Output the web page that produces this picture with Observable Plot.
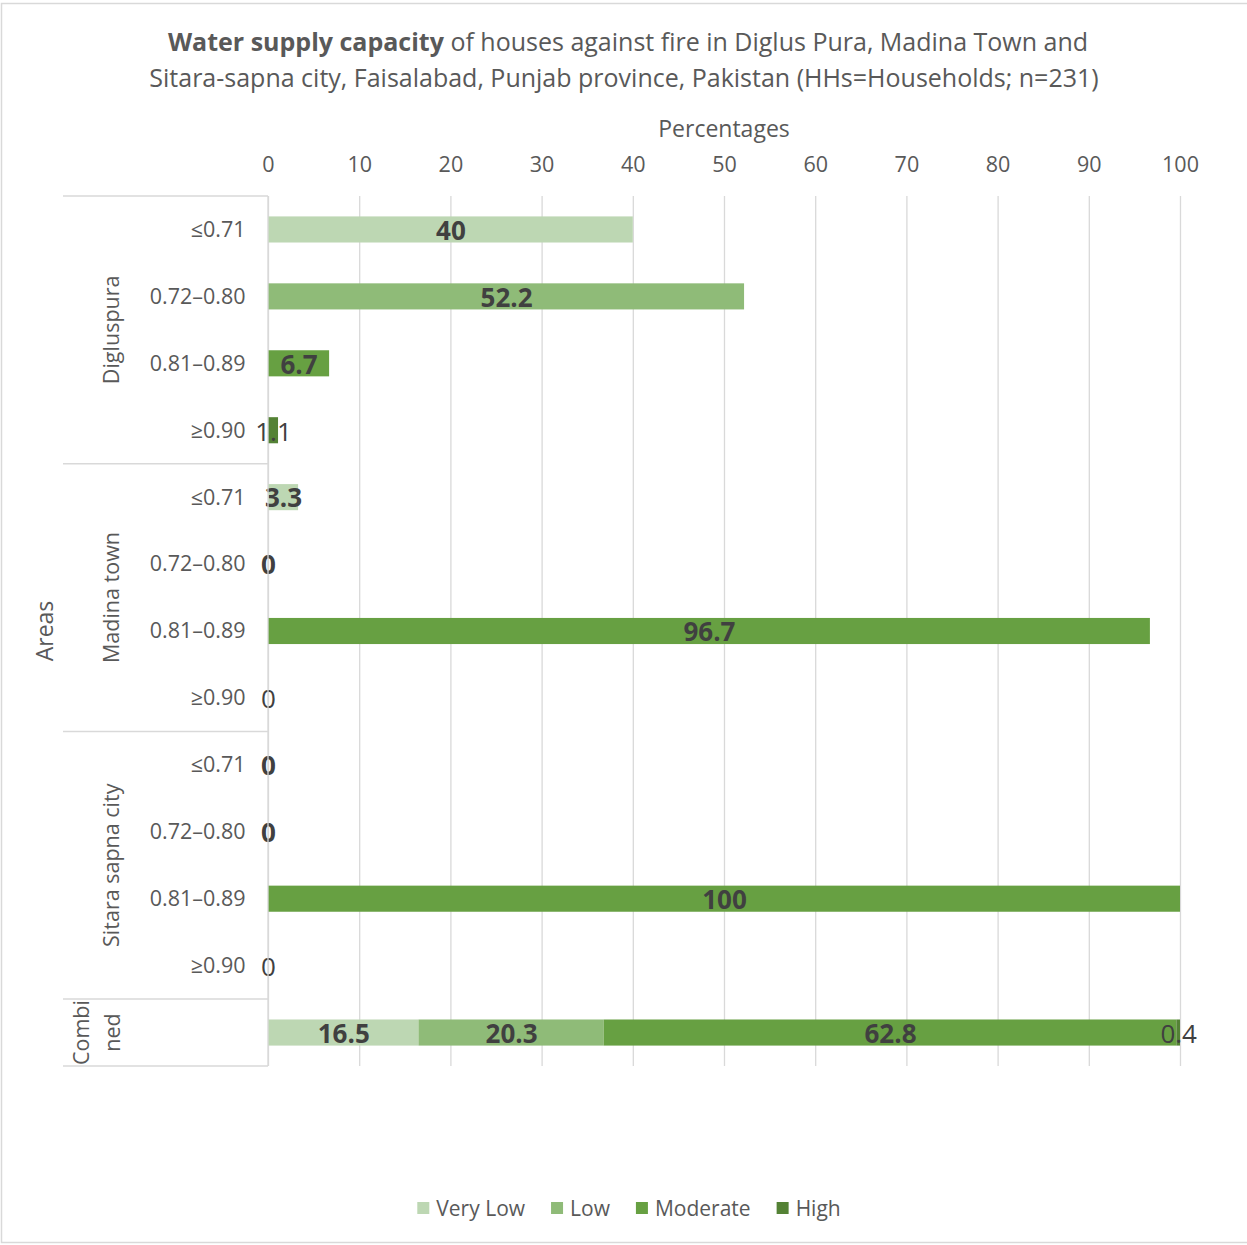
<!DOCTYPE html>
<html>
<head>
<meta charset="utf-8">
<script src="https://cdn.jsdelivr.net/npm/d3@7"></script>
<script src="https://cdn.jsdelivr.net/npm/@observablehq/plot@0.6"></script>
<style>
  body { margin: 0; background: #fff; }
  #chart { width: 1247px; height: 1245px; overflow: hidden; }
  #chart svg { display: block; }
</style>
</head>
<body>
<div id="chart"></div>
<script>
// Areas and capacity classes (category axis)
const areas = ["Digluspura", "Madina town", "Sitara sapna city", "Combined"];
const classes = ["≤0.71", "0.72–0.80", "0.81–0.89", "≥0.90"];
// Capacity levels (series)
const seriesNames = ["Very Low", "Low", "Moderate", "High"];
const seriesColors = ["#bdd7b3", "#8fbb78", "#67a042", "#548235"];
// Percentages of households, one value per class/level
const digluspura = [40, 52.2, 6.7, 1.1];
const madinaTown = [3.3, 0, 96.7, 0];
const sitaraSapna = [0, 0, 100, 0];
const combined = [16.5, 20.3, 62.8, 0.4];
const xTicks = [0, 10, 20, 30, 40, 50, 60, 70, 80, 90, 100];

// Build the long table: each area row carries one level; the combined row stacks all four
const rows = [];
const rowKeys = [];
[[areas[0], digluspura], [areas[1], madinaTown], [areas[2], sitaraSapna]].forEach(([area, vals]) => {
  vals.forEach((v, i) => {
    const key = area + "|" + classes[i];
    rowKeys.push(key);
    rows.push({row: key, area, series: seriesNames[i], value: v});
  });
});
const combinedKey = areas[3] + "|";
rowKeys.push(combinedKey);
combined.forEach((v, i) => rows.push({row: combinedKey, area: areas[3], series: seriesNames[i], value: v}));

const W = 1247, H = 1245;
const mTop = 196, mLeft = 268, mRight = 67, mBottom = 179;
const textColor = "#595959";
const font = "'Open Sans', sans-serif";

const plot = Plot.plot({
  width: W,
  height: H,
  marginTop: mTop,
  marginLeft: mLeft,
  marginRight: mRight,
  marginBottom: mBottom,
  style: {fontFamily: font, fontSize: "21.5px", color: textColor, background: "#fff"},
  x: {domain: [0, 100]},
  y: {domain: rowKeys, paddingInner: 0.61, paddingOuter: 0.305, round: false},
  color: {domain: seriesNames, range: seriesColors},
  marks: [
    Plot.gridX(xTicks, {stroke: "#d9d9d9", strokeOpacity: 1, strokeWidth: 1.3}),
    Plot.barX(rows, Plot.stackX({x: "value", y: "row", fill: "series"})),
    Plot.text(rows, Plot.stackX({
      x: "value", y: "row",
      text: d => d.series !== "High" ? String(d.value) : null,
      fontWeight: "bold", fontSize: 26, fill: "#404040", dy: 1.5
    })),
    Plot.text(rows, Plot.stackX({
      x: "value", y: "row",
      text: d => d.series === "High" ? String(d.value) : null,
      fontSize: 26, fill: "#404040", dy: 1.5
    })),
    Plot.axisX(xTicks, {anchor: "top", tickSize: 0, tickPadding: 25, label: null, fontSize: 21.5}),
    Plot.axisY({tickFormat: d => d.split("|")[1], tickSize: 0, tickPadding: 23, label: null, fontSize: 21.5})
  ]
});

document.getElementById("chart").appendChild(plot);

const svg = d3.select(plot);
const ys = plot.scale("y");
const gap = (ys.step - ys.bandwidth) / 2;
const catLeft = 63;

// Outer frame of the chart area
svg.insert("rect", ":first-child")
  .attr("x", 1.5).attr("y", 3.5).attr("width", W + 10).attr("height", H - 6)
  .attr("fill", "none").attr("stroke", "#d9d9d9").attr("stroke-width", 1.5);

// Vertical value axis line at zero
svg.append("line")
  .attr("x1", mLeft).attr("x2", mLeft)
  .attr("y1", mTop).attr("y2", H - mBottom)
  .attr("stroke", "#d9d9d9").attr("stroke-width", 1.3);

// Group separators and group labels of the multi-level category axis
const groupBounds = areas.map(area => {
  const keys = rowKeys.filter(k => k.startsWith(area + "|"));
  const top = ys.apply(keys[0]) - gap;
  const bottom = ys.apply(keys[keys.length - 1]) + ys.bandwidth + gap;
  return {area, top, bottom};
});
const seps = [groupBounds[0].top, ...groupBounds.map(g => g.bottom)];
svg.append("g").selectAll("line").data(seps).join("line")
  .attr("x1", catLeft).attr("x2", mLeft)
  .attr("y1", d => d).attr("y2", d => d)
  .attr("stroke", "#d9d9d9").attr("stroke-width", 1.5);

const gLabels = svg.append("g")
  .attr("font-family", font).attr("font-size", 21.5).attr("fill", textColor)
  .attr("text-anchor", "middle");
groupBounds.forEach(g => {
  const mid = (g.top + g.bottom) / 2;
  const lines = g.area === "Combined" ? ["Combi", "ned"] : [g.area];
  lines.forEach((line, i) => {
    const x = lines.length === 1 ? 110 : 80 + i * 31;
    gLabels.append("text")
      .attr("transform", `translate(${x},${mid}) rotate(-90)`)
      .attr("dominant-baseline", "central")
      .text(line);
  });
});

// Axis titles
svg.append("text")
  .attr("x", (mLeft + W - mRight) / 2).attr("y", 128)
  .attr("text-anchor", "middle").attr("dominant-baseline", "central")
  .attr("font-family", font).attr("font-size", 23).attr("fill", textColor)
  .text("Percentages");
svg.append("text")
  .attr("transform", `translate(44,${(mTop + H - mBottom) / 2}) rotate(-90)`)
  .attr("text-anchor", "middle").attr("dominant-baseline", "central")
  .attr("font-family", font).attr("font-size", 23).attr("fill", textColor)
  .text("Areas");

// Chart title
const title = svg.append("text")
  .attr("text-anchor", "middle")
  .attr("font-family", font).attr("font-size", 25).attr("fill", textColor);
const t1 = title.append("tspan").attr("x", 628).attr("y", 51);
t1.append("tspan").attr("font-weight", "bold").text("Water supply capacity");
t1.append("tspan").text(" of houses against fire in Diglus Pura, Madina Town and");
title.append("tspan").attr("x", 624).attr("y", 87)
  .text("Sitara-sapna city, Faisalabad, Punjab province, Pakistan (HHs=Households; n=231)");

// Legend
const legend = svg.append("g")
  .attr("font-family", font).attr("font-size", 21).attr("fill", textColor)
  .attr("text-anchor", "start");
const items = seriesNames.map((name, i) => {
  const g = legend.append("g");
  g.append("rect").attr("x", 0).attr("y", -6).attr("width", 12).attr("height", 12).attr("fill", seriesColors[i]);
  const t = g.append("text").attr("x", 19).attr("y", 0).attr("dominant-baseline", "central").text(name);
  return {g, w: 19 + t.node().getComputedTextLength()};
});
const itemGap = 26;
const totalW = d3.sum(items, d => d.w) + itemGap * (items.length - 1);
let lx = 629 - totalW / 2;
items.forEach(it => {
  it.g.attr("transform", `translate(${lx},1208)`);
  lx += it.w + itemGap;
});
</script>
</body>
</html>
